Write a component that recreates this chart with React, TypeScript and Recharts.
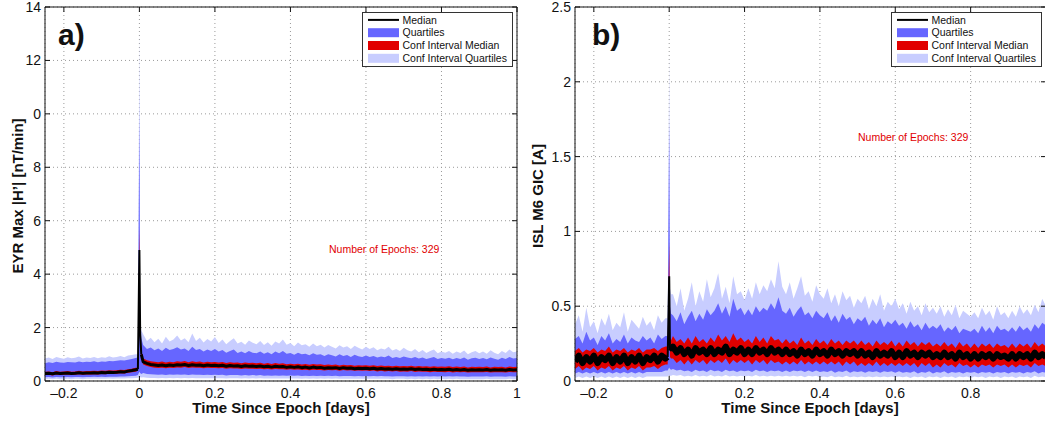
import React from "react";
import {
  ComposedChart,
  Area,
  Line,
  XAxis,
  YAxis,
  CartesianGrid,
  ReferenceArea,
  Legend,
} from "recharts";

// sample times (days since epoch), shared by both panels
const epochDays = [
  -0.25, -0.24, -0.23, -0.22, -0.21, -0.2, -0.19, -0.18, -0.17, -0.16,
  -0.15, -0.14, -0.13, -0.12, -0.11, -0.1, -0.09, -0.08, -0.07, -0.06,
  -0.05, -0.04, -0.03, -0.02, -0.01,
  -0.004, 0, 0.002, 0.005,
  0.01, 0.02, 0.03, 0.04, 0.05, 0.06, 0.07, 0.08, 0.09, 0.1,
  0.11, 0.12, 0.13, 0.14, 0.15, 0.16, 0.17, 0.18, 0.19, 0.2,
  0.21, 0.22, 0.23, 0.24, 0.25, 0.26, 0.27, 0.28, 0.29, 0.3,
  0.31, 0.32, 0.33, 0.34, 0.35, 0.36, 0.37, 0.38, 0.39, 0.4,
  0.41, 0.42, 0.43, 0.44, 0.45, 0.46, 0.47, 0.48, 0.49, 0.5,
  0.51, 0.52, 0.53, 0.54, 0.55, 0.56, 0.57, 0.58, 0.59, 0.6,
  0.61, 0.62, 0.63, 0.64, 0.65, 0.66, 0.67, 0.68, 0.69, 0.7,
  0.71, 0.72, 0.73, 0.74, 0.75, 0.76, 0.77, 0.78, 0.79, 0.8,
  0.81, 0.82, 0.83, 0.84, 0.85, 0.86, 0.87, 0.88, 0.89, 0.9,
  0.91, 0.92, 0.93, 0.94, 0.95, 0.96, 0.97, 0.98, 0.99, 1.0,
];
// the samples right at the epoch onset, drawn with a thin median stroke
const onsetDays = [-0.004, 0, 0.002, 0.005];

// ---- panel a) EYR Max |H'| ----
const eyrCiqHi = [
  0.84, 0.88, 0.82, 0.9, 0.86, 0.83, 0.89, 0.85, 0.87, 0.92, 0.84, 0.88, 0.86, 0.9, 0.85, 0.89, 0.87, 0.93, 0.88, 0.9, 0.94, 0.89, 0.95, 0.97, 1.0,
  1.0, 13.2, 2.4, 1.9,
  1.75, 1.5, 1.62, 1.45, 1.58, 1.4, 1.66, 1.48, 1.55, 1.7,
  1.52, 1.6, 1.45, 1.78, 1.5, 1.62, 1.44, 1.57, 1.48, 1.65,
  1.42, 1.55, 1.38, 1.5, 1.6, 1.4, 1.47, 1.36, 1.52, 1.43,
  1.38, 1.5, 1.35, 1.45, 1.32, 1.48, 1.4, 1.55, 1.36, 1.42,
  1.3, 1.44, 1.34, 1.38, 1.28, 1.4, 1.3, 1.36, 1.25, 1.35,
  1.28, 1.22, 1.34, 1.25, 1.3, 1.2, 1.32, 1.24, 1.18, 1.28,
  1.2, 1.26, 1.15, 1.22, 1.18, 1.28, 1.14, 1.2, 1.12, 1.24,
  1.15, 1.1, 1.2, 1.08, 1.16, 1.05, 1.12, 1.18, 1.04, 1.1,
  1.06, 1.12, 1.02, 1.1, 1.05, 1.14, 1.0, 1.08, 1.12, 1.04,
  1.1, 1.02, 1.15, 1.06, 1.0, 1.12, 1.05, 1.18, 1.08, 1.1,
];
const eyrQHi = [
  0.66, 0.7, 0.67, 0.72, 0.69, 0.68, 0.71, 0.7, 0.69, 0.73, 0.7, 0.72, 0.71, 0.74, 0.7, 0.73, 0.72, 0.75, 0.74, 0.76, 0.78, 0.77, 0.8, 0.82, 0.86,
  0.88, 10.0, 2.0, 1.6,
  1.35, 1.2, 1.25, 1.15, 1.22, 1.12, 1.24, 1.16, 1.2, 1.26,
  1.18, 1.22, 1.12, 1.28, 1.16, 1.2, 1.1, 1.18, 1.12, 1.2,
  1.1, 1.16, 1.06, 1.12, 1.18, 1.05, 1.1, 1.04, 1.12, 1.06,
  1.04, 1.1, 1.02, 1.08, 1.0, 1.1, 1.04, 1.12, 1.02, 1.05,
  0.98, 1.06, 1.0, 1.02, 0.96, 1.04, 0.98, 1.0, 0.94, 1.0,
  0.96, 0.92, 1.0, 0.94, 0.97, 0.9, 0.98, 0.93, 0.9, 0.95,
  0.9, 0.94, 0.88, 0.92, 0.89, 0.95, 0.86, 0.9, 0.86, 0.92,
  0.88, 0.85, 0.9, 0.84, 0.88, 0.82, 0.86, 0.9, 0.82, 0.86,
  0.83, 0.87, 0.81, 0.86, 0.82, 0.88, 0.8, 0.85, 0.87, 0.82,
  0.86, 0.81, 0.88, 0.83, 0.8, 0.87, 0.82, 0.9, 0.84, 0.86,
];
const eyrCimHi = [
  0.35, 0.36, 0.33, 0.37, 0.35, 0.36, 0.37, 0.35, 0.36, 0.38, 0.36, 0.37, 0.37, 0.38, 0.37, 0.39, 0.38, 0.4, 0.39, 0.4, 0.42, 0.41, 0.44, 0.46, 0.5,
  0.5, 5.75, 1.95, 1.15,
  0.84, 0.78, 0.74, 0.72, 0.7, 0.73, 0.69, 0.72, 0.7, 0.74,
  0.72, 0.75, 0.7, 0.74, 0.71, 0.73, 0.69, 0.72, 0.7, 0.71,
  0.69, 0.71, 0.67, 0.7, 0.68, 0.69, 0.66, 0.69, 0.67, 0.68,
  0.66, 0.68, 0.65, 0.67, 0.64, 0.67, 0.65, 0.66, 0.63, 0.65,
  0.63, 0.65, 0.62, 0.64, 0.61, 0.64, 0.62, 0.63, 0.6, 0.62,
  0.6, 0.62, 0.58, 0.61, 0.59, 0.6, 0.57, 0.59, 0.58, 0.59,
  0.57, 0.59, 0.56, 0.58, 0.56, 0.57, 0.55, 0.57, 0.55, 0.56,
  0.55, 0.57, 0.54, 0.56, 0.54, 0.55, 0.53, 0.55, 0.53, 0.54,
  0.53, 0.55, 0.52, 0.54, 0.52, 0.54, 0.51, 0.53, 0.52, 0.53,
  0.52, 0.54, 0.51, 0.53, 0.52, 0.53, 0.51, 0.54, 0.52, 0.53,
];
const eyrMed = [
  0.28, 0.29, 0.27, 0.3, 0.28, 0.29, 0.3, 0.28, 0.29, 0.31, 0.29, 0.3, 0.3, 0.31, 0.3, 0.32, 0.31, 0.33, 0.32, 0.33, 0.35, 0.34, 0.37, 0.39, 0.42,
  0.44, 4.9, 1.8, 1.0,
  0.72, 0.66, 0.62, 0.6, 0.58, 0.6, 0.57, 0.6, 0.58, 0.61,
  0.6, 0.62, 0.58, 0.61, 0.59, 0.6, 0.57, 0.6, 0.58, 0.59,
  0.57, 0.59, 0.55, 0.58, 0.56, 0.57, 0.54, 0.57, 0.55, 0.56,
  0.54, 0.56, 0.53, 0.55, 0.52, 0.55, 0.53, 0.54, 0.51, 0.53,
  0.51, 0.53, 0.5, 0.52, 0.49, 0.52, 0.5, 0.51, 0.48, 0.5,
  0.49, 0.5, 0.47, 0.5, 0.48, 0.49, 0.46, 0.48, 0.47, 0.48,
  0.46, 0.48, 0.45, 0.47, 0.45, 0.46, 0.44, 0.46, 0.44, 0.45,
  0.44, 0.46, 0.43, 0.45, 0.43, 0.44, 0.42, 0.44, 0.42, 0.43,
  0.42, 0.44, 0.41, 0.43, 0.41, 0.43, 0.4, 0.42, 0.41, 0.42,
  0.41, 0.43, 0.4, 0.42, 0.41, 0.42, 0.4, 0.43, 0.41, 0.42,
];
const eyrCimLo = [
  0.22, 0.23, 0.21, 0.24, 0.22, 0.23, 0.24, 0.22, 0.23, 0.25, 0.23, 0.24, 0.24, 0.25, 0.24, 0.26, 0.25, 0.27, 0.26, 0.27, 0.29, 0.28, 0.31, 0.33, 0.35,
  0.38, 4.2, 1.6, 0.9,
  0.62, 0.56, 0.52, 0.5, 0.49, 0.5, 0.48, 0.5, 0.49, 0.51,
  0.5, 0.52, 0.49, 0.51, 0.5, 0.5, 0.48, 0.5, 0.49, 0.49,
  0.48, 0.49, 0.46, 0.48, 0.47, 0.47, 0.45, 0.47, 0.46, 0.46,
  0.45, 0.46, 0.44, 0.45, 0.43, 0.45, 0.44, 0.44, 0.42, 0.44,
  0.42, 0.43, 0.41, 0.42, 0.4, 0.42, 0.41, 0.41, 0.39, 0.41,
  0.4, 0.41, 0.38, 0.41, 0.39, 0.4, 0.38, 0.39, 0.38, 0.39,
  0.37, 0.39, 0.36, 0.38, 0.36, 0.37, 0.36, 0.37, 0.35, 0.36,
  0.35, 0.37, 0.34, 0.36, 0.35, 0.35, 0.33, 0.35, 0.34, 0.34,
  0.33, 0.35, 0.32, 0.34, 0.33, 0.34, 0.32, 0.33, 0.33, 0.33,
  0.33, 0.34, 0.32, 0.33, 0.33, 0.33, 0.32, 0.34, 0.33, 0.33,
];
const eyrQLo = [
  0.14, 0.15, 0.13, 0.15, 0.14, 0.14, 0.15, 0.14, 0.15, 0.15, 0.14, 0.15, 0.15, 0.16, 0.15, 0.16, 0.15, 0.16, 0.16, 0.16, 0.17, 0.17, 0.18, 0.19, 0.2,
  0.22, 0.35, 0.3, 0.26,
  0.3, 0.26, 0.25, 0.24, 0.23, 0.24, 0.22, 0.24, 0.23, 0.24,
  0.23, 0.24, 0.22, 0.24, 0.23, 0.23, 0.22, 0.23, 0.22, 0.23,
  0.22, 0.23, 0.21, 0.22, 0.22, 0.22, 0.21, 0.22, 0.21, 0.22,
  0.21, 0.22, 0.2, 0.21, 0.2, 0.21, 0.2, 0.21, 0.2, 0.21,
  0.2, 0.21, 0.19, 0.2, 0.19, 0.2, 0.19, 0.2, 0.19, 0.2,
  0.19, 0.2, 0.18, 0.19, 0.19, 0.19, 0.18, 0.19, 0.18, 0.19,
  0.18, 0.19, 0.18, 0.19, 0.18, 0.18, 0.17, 0.18, 0.18, 0.18,
  0.17, 0.18, 0.17, 0.18, 0.17, 0.18, 0.17, 0.18, 0.17, 0.18,
  0.17, 0.18, 0.17, 0.18, 0.17, 0.17, 0.16, 0.17, 0.17, 0.17,
  0.17, 0.18, 0.16, 0.17, 0.17, 0.17, 0.16, 0.18, 0.17, 0.17,
];
const eyrCiqLo = [
  0.07, 0.08, 0.07, 0.08, 0.07, 0.07, 0.08, 0.07, 0.08, 0.08, 0.07, 0.08, 0.08, 0.08, 0.08, 0.08, 0.08, 0.09, 0.08, 0.09, 0.09, 0.09, 0.1, 0.1, 0.11,
  0.12, 0.15, 0.14, 0.13,
  0.14, 0.12, 0.11, 0.11, 0.1, 0.11, 0.1, 0.11, 0.1, 0.11,
  0.1, 0.11, 0.1, 0.11, 0.1, 0.1, 0.1, 0.1, 0.1, 0.1,
  0.1, 0.1, 0.09, 0.1, 0.1, 0.1, 0.09, 0.1, 0.09, 0.1,
  0.09, 0.1, 0.09, 0.09, 0.09, 0.09, 0.09, 0.09, 0.09, 0.09,
  0.09, 0.09, 0.08, 0.09, 0.08, 0.09, 0.08, 0.09, 0.08, 0.09,
  0.08, 0.09, 0.08, 0.08, 0.08, 0.08, 0.08, 0.08, 0.08, 0.08,
  0.08, 0.08, 0.08, 0.08, 0.08, 0.08, 0.07, 0.08, 0.08, 0.08,
  0.07, 0.08, 0.07, 0.08, 0.07, 0.08, 0.07, 0.08, 0.07, 0.08,
  0.07, 0.08, 0.07, 0.08, 0.07, 0.07, 0.07, 0.07, 0.07, 0.07,
  0.07, 0.08, 0.07, 0.07, 0.07, 0.07, 0.07, 0.08, 0.07, 0.07,
];

// ---- panel b) ISL M6 GIC ----
const islCiqHi = [
  0.38, 0.44, 0.33, 0.49, 0.36, 0.4, 0.32, 0.42, 0.37, 0.45, 0.34, 0.39, 0.36, 0.46, 0.33, 0.41, 0.38, 0.35, 0.43, 0.37, 0.4, 0.34, 0.44, 0.39, 0.42,
  0.42, 2.2, 0.62, 0.58,
  0.58, 0.5, 0.62, 0.47, 0.55, 0.66, 0.5, 0.6, 0.53, 0.68,
  0.56, 0.62, 0.72, 0.55, 0.63, 0.52, 0.7, 0.58, 0.6, 0.54,
  0.62, 0.55, 0.66, 0.58, 0.64, 0.6, 0.68, 0.62, 0.8, 0.63,
  0.58, 0.66, 0.55, 0.62, 0.7, 0.57, 0.6, 0.53, 0.64, 0.58,
  0.55, 0.62, 0.52, 0.58, 0.5, 0.6, 0.54, 0.57, 0.49, 0.55,
  0.52, 0.57, 0.48, 0.55, 0.5, 0.58, 0.47, 0.53, 0.5, 0.55,
  0.48, 0.52, 0.45, 0.53, 0.47, 0.5, 0.44, 0.52, 0.46, 0.49,
  0.45, 0.5, 0.43, 0.48, 0.44, 0.51, 0.42, 0.47, 0.45, 0.43,
  0.46, 0.42, 0.49, 0.44, 0.47, 0.41, 0.5, 0.44, 0.46, 0.42,
  0.47, 0.43, 0.5, 0.45, 0.48, 0.44, 0.51, 0.46, 0.55, 0.5,
];
const islQHi = [
  0.28, 0.3, 0.25, 0.33, 0.27, 0.29, 0.24, 0.3, 0.27, 0.32, 0.25, 0.28, 0.26, 0.31, 0.25, 0.29, 0.27, 0.26, 0.3, 0.27, 0.29, 0.25, 0.31, 0.28, 0.3,
  0.3, 1.74, 0.5, 0.45,
  0.44, 0.4, 0.46, 0.38, 0.43, 0.47, 0.4, 0.45, 0.41, 0.48,
  0.44, 0.47, 0.52, 0.45, 0.5, 0.43, 0.55, 0.47, 0.49, 0.44,
  0.48, 0.44, 0.5, 0.46, 0.49, 0.47, 0.52, 0.48, 0.56, 0.47,
  0.45, 0.49, 0.43, 0.47, 0.5, 0.44, 0.46, 0.42, 0.47, 0.44,
  0.42, 0.46, 0.4, 0.44, 0.39, 0.45, 0.41, 0.43, 0.38, 0.42,
  0.4, 0.43, 0.37, 0.41, 0.38, 0.42, 0.36, 0.4, 0.38, 0.41,
  0.37, 0.39, 0.35, 0.4, 0.36, 0.38, 0.34, 0.39, 0.35, 0.37,
  0.35, 0.38, 0.33, 0.36, 0.34, 0.37, 0.32, 0.35, 0.34, 0.33,
  0.35, 0.32, 0.37, 0.33, 0.36, 0.32, 0.37, 0.34, 0.35, 0.33,
  0.36, 0.33, 0.37, 0.34, 0.36, 0.33, 0.38, 0.35, 0.39, 0.37,
];
const islCimHi = [
  0.2, 0.22, 0.19, 0.21, 0.2, 0.22, 0.19, 0.21, 0.2, 0.23, 0.19, 0.21, 0.2, 0.22, 0.19, 0.21, 0.2, 0.22, 0.19, 0.21, 0.21, 0.22, 0.2, 0.22, 0.23,
  0.23, 0.93, 0.29, 0.27,
  0.3, 0.26, 0.28, 0.25, 0.29, 0.25, 0.3, 0.26, 0.28, 0.25,
  0.29, 0.26, 0.31, 0.27, 0.3, 0.26, 0.32, 0.27, 0.29, 0.26,
  0.28, 0.25, 0.3, 0.26, 0.29, 0.25, 0.3, 0.27, 0.28, 0.25,
  0.28, 0.25, 0.27, 0.24, 0.29, 0.25, 0.27, 0.24, 0.28, 0.25,
  0.27, 0.24, 0.28, 0.25, 0.27, 0.24, 0.27, 0.25, 0.27, 0.24,
  0.27, 0.24, 0.26, 0.23, 0.27, 0.24, 0.26, 0.24, 0.27, 0.23,
  0.26, 0.23, 0.27, 0.24, 0.26, 0.23, 0.26, 0.24, 0.26, 0.23,
  0.25, 0.23, 0.26, 0.23, 0.25, 0.22, 0.26, 0.23, 0.25, 0.22,
  0.25, 0.22, 0.25, 0.23, 0.25, 0.22, 0.25, 0.23, 0.24, 0.22,
  0.25, 0.22, 0.25, 0.23, 0.25, 0.22, 0.26, 0.23, 0.25, 0.23,
];
const islMed = [
  0.13, 0.17, 0.12, 0.16, 0.13, 0.17, 0.12, 0.16, 0.14, 0.17, 0.12, 0.16, 0.13, 0.17, 0.12, 0.16, 0.13, 0.17, 0.12, 0.16, 0.14, 0.17, 0.13, 0.17, 0.15,
  0.16, 0.7, 0.22, 0.2,
  0.23, 0.19, 0.22, 0.18, 0.21, 0.17, 0.22, 0.19, 0.21, 0.18,
  0.22, 0.18, 0.21, 0.19, 0.23, 0.18, 0.21, 0.19, 0.22, 0.18,
  0.21, 0.18, 0.22, 0.19, 0.21, 0.18, 0.22, 0.19, 0.21, 0.18,
  0.21, 0.18, 0.2, 0.17, 0.21, 0.18, 0.2, 0.17, 0.21, 0.18,
  0.2, 0.17, 0.21, 0.18, 0.2, 0.17, 0.2, 0.18, 0.2, 0.17,
  0.2, 0.17, 0.19, 0.16, 0.2, 0.17, 0.19, 0.17, 0.2, 0.16,
  0.19, 0.16, 0.2, 0.17, 0.19, 0.16, 0.19, 0.17, 0.19, 0.16,
  0.18, 0.16, 0.19, 0.16, 0.18, 0.15, 0.19, 0.16, 0.18, 0.15,
  0.18, 0.15, 0.18, 0.16, 0.18, 0.15, 0.18, 0.16, 0.17, 0.15,
  0.18, 0.15, 0.18, 0.16, 0.18, 0.15, 0.19, 0.16, 0.18, 0.16,
];
const islCimLo = [
  0.08, 0.1, 0.07, 0.09, 0.08, 0.1, 0.07, 0.09, 0.08, 0.1, 0.07, 0.09, 0.08, 0.1, 0.07, 0.09, 0.08, 0.1, 0.07, 0.09, 0.09, 0.1, 0.08, 0.1, 0.11,
  0.11, 0.6, 0.16, 0.15,
  0.15, 0.12, 0.14, 0.11, 0.14, 0.11, 0.14, 0.12, 0.14, 0.11,
  0.14, 0.12, 0.14, 0.12, 0.15, 0.11, 0.14, 0.12, 0.14, 0.12,
  0.14, 0.11, 0.14, 0.12, 0.14, 0.11, 0.14, 0.12, 0.13, 0.11,
  0.13, 0.11, 0.13, 0.11, 0.14, 0.11, 0.13, 0.11, 0.13, 0.11,
  0.13, 0.11, 0.13, 0.11, 0.13, 0.1, 0.13, 0.11, 0.13, 0.1,
  0.12, 0.1, 0.12, 0.1, 0.13, 0.1, 0.12, 0.1, 0.12, 0.1,
  0.12, 0.1, 0.12, 0.1, 0.12, 0.09, 0.12, 0.1, 0.12, 0.09,
  0.11, 0.09, 0.12, 0.1, 0.11, 0.09, 0.12, 0.1, 0.11, 0.09,
  0.11, 0.09, 0.11, 0.1, 0.11, 0.09, 0.11, 0.1, 0.11, 0.09,
  0.11, 0.09, 0.11, 0.1, 0.11, 0.09, 0.12, 0.1, 0.11, 0.1,
];
const islQLo = [
  0.05, 0.06, 0.05, 0.06, 0.05, 0.06, 0.05, 0.06, 0.05, 0.06, 0.05, 0.06, 0.05, 0.06, 0.05, 0.06, 0.05, 0.06, 0.05, 0.06, 0.06, 0.06, 0.06, 0.06, 0.07,
  0.07, 0.09, 0.08, 0.075,
  0.08, 0.07, 0.075, 0.065, 0.07, 0.06, 0.075, 0.065, 0.07, 0.06,
  0.075, 0.065, 0.07, 0.06, 0.075, 0.065, 0.07, 0.06, 0.07, 0.065,
  0.07, 0.06, 0.075, 0.065, 0.07, 0.06, 0.07, 0.065, 0.07, 0.06,
  0.07, 0.06, 0.07, 0.065, 0.07, 0.06, 0.07, 0.06, 0.07, 0.06,
  0.065, 0.06, 0.07, 0.055, 0.065, 0.06, 0.07, 0.055, 0.065, 0.06,
  0.065, 0.055, 0.065, 0.06, 0.065, 0.055, 0.065, 0.06, 0.065, 0.055,
  0.065, 0.055, 0.06, 0.055, 0.065, 0.05, 0.06, 0.055, 0.065, 0.05,
  0.06, 0.055, 0.065, 0.05, 0.06, 0.055, 0.06, 0.05, 0.06, 0.055,
  0.06, 0.05, 0.06, 0.055, 0.06, 0.05, 0.06, 0.055, 0.06, 0.05,
  0.06, 0.055, 0.06, 0.05, 0.06, 0.055, 0.065, 0.05, 0.06, 0.055,
];
const islCiqLo = [
  0.02, 0.03, 0.02, 0.03, 0.02, 0.03, 0.02, 0.03, 0.02, 0.03, 0.02, 0.03, 0.02, 0.03, 0.02, 0.03, 0.02, 0.03, 0.02, 0.03, 0.03, 0.03, 0.03, 0.03, 0.03,
  0.03, 0.04, 0.035, 0.035,
  0.04, 0.035, 0.04, 0.03, 0.035, 0.03, 0.04, 0.03, 0.035, 0.03,
  0.04, 0.03, 0.035, 0.03, 0.04, 0.03, 0.035, 0.03, 0.035, 0.03,
  0.035, 0.03, 0.04, 0.03, 0.035, 0.03, 0.035, 0.03, 0.035, 0.03,
  0.035, 0.03, 0.035, 0.03, 0.035, 0.025, 0.035, 0.03, 0.035, 0.025,
  0.03, 0.025, 0.035, 0.025, 0.03, 0.025, 0.035, 0.025, 0.03, 0.025,
  0.03, 0.025, 0.03, 0.025, 0.03, 0.025, 0.03, 0.025, 0.03, 0.025,
  0.03, 0.025, 0.03, 0.02, 0.03, 0.025, 0.03, 0.02, 0.03, 0.025,
  0.03, 0.02, 0.03, 0.025, 0.03, 0.02, 0.03, 0.025, 0.03, 0.02,
  0.03, 0.025, 0.03, 0.02, 0.03, 0.025, 0.03, 0.02, 0.03, 0.025,
  0.03, 0.02, 0.03, 0.025, 0.03, 0.02, 0.035, 0.025, 0.03, 0.025,
];

// axes
const xTicksA = [-0.2, 0, 0.2, 0.4, 0.6, 0.8, 1];
const xTickLabelsA = ["\u20130.2", "0", "0.2", "0.4", "0.6", "0.8", "1"];
const xTicksB = [-0.2, 0, 0.2, 0.4, 0.6, 0.8];
const xTickLabelsB = ["\u20130.2", "0", "0.2", "0.4", "0.6", "0.8"];
const yTicksA = [0, 2, 4, 6, 8, 10, 12, 14];
const yTickLabelsA = ["0", "2", "4", "6", "8", "0", "12", "14"];
const yTicksB = [0, 0.5, 1, 1.5, 2, 2.5];
const yTickLabelsB = ["0", "0.5", "1", "1.5", "2", "2.5"];
const legendNames = ["Median", "Quartiles", "Conf Interval Median", "Conf Interval Quartiles"];

const LIGHT = "#c8cdff";
const BLUE = "#6666ff";
const RED = "#e10000";
const INK = "#111";
const FONT = '"Liberation Sans", Arial, Helvetica, sans-serif';

const H = 425;
const PLOT_TOP = 7;
const X_AXIS_H = 44;
const PLOT_BOTTOM = H - X_AXIS_H;

type Bands = {
  ciqLo: number[];
  qLo: number[];
  cimLo: number[];
  med: number[];
  cimHi: number[];
  qHi: number[];
  ciqHi: number[];
};

function buildRows(s: Bands) {
  const first = onsetDays[0];
  const last = onsetDays[onsetDays.length - 1];
  return epochDays.map((t, i) => {
    const inOnset = onsetDays.includes(t);
    const inner = inOnset && t !== first && t !== last;
    return {
      t,
      ciq: [s.ciqLo[i], s.ciqHi[i]],
      q: [s.qLo[i], s.qHi[i]],
      cim: [s.cimLo[i], s.cimHi[i]],
      med: inner ? null : s.med[i],
      medOnset: inOnset ? s.med[i] : null,
    };
  });
}

const rowsA = buildRows({
  ciqLo: eyrCiqLo, qLo: eyrQLo, cimLo: eyrCimLo, med: eyrMed,
  cimHi: eyrCimHi, qHi: eyrQHi, ciqHi: eyrCiqHi,
});
const rowsB = buildRows({
  ciqLo: islCiqLo, qLo: islQLo, cimLo: islCimLo, med: islMed,
  cimHi: islCimHi, qHi: islQHi, ciqHi: islCiqHi,
});

function LegendBox() {
  const swatch = [null, BLUE, RED, LIGHT];
  return (
    <svg width={151} height={55} style={{ display: "block" }}>
      <rect x={0.5} y={0.5} width={150} height={54} fill="#fff" stroke="#333" />
      {legendNames.map((name, i) => {
        const cy = 7.9 + i * 12.8;
        return (
          <g key={name}>
            {swatch[i] ? (
              <rect x={6} y={cy - 4.5} width={31} height={9} fill={swatch[i] as string} />
            ) : (
              <line x1={6} x2={37} y1={cy} y2={cy} stroke="#000" strokeWidth={2} />
            )}
            <text x={40.5} y={cy + 3.7} fontSize={10.5} fontFamily={FONT} fill={INK}>
              {name}
            </text>
          </g>
        );
      })}
    </svg>
  );
}

type PanelProps = {
  rows: ReturnType<typeof buildRows>;
  width: number;
  yAxisWidth: number;
  marginRight: number;
  yMax: number;
  yTicks: number[];
  yTickLabels: string[];
  xTicks: number[];
  xTickLabels: string[];
  legendLeft: number;
  medWidth: number;
};

function Panel(p: PanelProps) {
  const plotLeft = p.yAxisWidth;
  const plotRight = p.width - p.marginRight;

  const xTick = (props: any) => {
    const { x, payload } = props;
    const label = p.xTickLabels[p.xTicks.indexOf(payload.value)];
    return (
      <g>
        <line x1={x} x2={x} y1={PLOT_BOTTOM} y2={PLOT_BOTTOM - 5} stroke={INK} />
        <line x1={x} x2={x} y1={PLOT_TOP} y2={PLOT_TOP + 5} stroke={INK} />
        <text x={x} y={PLOT_BOTTOM + 17} textAnchor="middle" fontSize={14} fontFamily={FONT} fill={INK}>
          {label}
        </text>
      </g>
    );
  };

  const yTick = (props: any) => {
    const { y, payload } = props;
    const label = p.yTickLabels[p.yTicks.indexOf(payload.value)];
    return (
      <g>
        <line x1={plotLeft} x2={plotLeft + 5} y1={y} y2={y} stroke={INK} />
        <line x1={plotRight - 5} x2={plotRight} y1={y} y2={y} stroke={INK} />
        <text x={plotLeft - 4} y={y + 5} textAnchor="end" fontSize={14} fontFamily={FONT} fill={INK}>
          {label}
        </text>
      </g>
    );
  };

  return (
    <ComposedChart
      width={p.width}
      height={H}
      data={p.rows}
      margin={{ top: PLOT_TOP, right: p.marginRight, bottom: 0, left: 0 }}
    >
      <CartesianGrid stroke="#9a9a9a" strokeDasharray="1 3" />
      <XAxis
        type="number"
        dataKey="t"
        domain={[-0.25, 1]}
        ticks={p.xTicks}
        interval={0}
        allowDataOverflow
        height={X_AXIS_H}
        axisLine={false}
        tickLine={false}
        tickSize={0}
        tickMargin={0}
        tick={xTick}
      />
      <YAxis
        type="number"
        domain={[0, p.yMax]}
        ticks={p.yTicks}
        interval={0}
        allowDataOverflow
        width={p.yAxisWidth}
        axisLine={false}
        tickLine={false}
        tickSize={0}
        tickMargin={0}
        tick={yTick}
      />
      <Area
        type="linear"
        dataKey="ciq"
        name="Conf Interval Quartiles"
        stroke="none"
        fill={LIGHT}
        fillOpacity={1}
        dot={false}
        activeDot={false}
        isAnimationActive={false}
      />
      <Area
        type="linear"
        dataKey="q"
        name="Quartiles"
        stroke="none"
        fill={BLUE}
        fillOpacity={1}
        dot={false}
        activeDot={false}
        isAnimationActive={false}
      />
      <Area
        type="linear"
        dataKey="cim"
        name="Conf Interval Median"
        stroke="none"
        fill={RED}
        fillOpacity={1}
        dot={false}
        activeDot={false}
        isAnimationActive={false}
      />
      <Line
        type="linear"
        dataKey="med"
        name="Median"
        stroke="#000"
        strokeWidth={p.medWidth}
        strokeLinejoin="round"
        dot={false}
        activeDot={false}
        isAnimationActive={false}
      />
      <Line
        type="linear"
        dataKey="medOnset"
        name="Median onset"
        stroke="#000"
        strokeWidth={2}
        dot={false}
        activeDot={false}
        legendType="none"
        isAnimationActive={false}
      />
      <ReferenceArea
        x1={-0.25}
        x2={1}
        y1={0}
        y2={p.yMax}
        fill="none"
        stroke={INK}
        strokeWidth={1}
        ifOverflow="visible"
      />
      <Legend
        layout="vertical"
        align="center"
        verticalAlign="middle"
        wrapperStyle={{ left: p.legendLeft, top: 12, width: 151, height: 55 }}
        content={() => <LegendBox />}
      />
    </ComposedChart>
  );
}

export default function App() {
  const titleStyle = { fontFamily: FONT, fontWeight: 700, fill: INK } as const;
  return (
    <div
      style={{
        position: "fixed",
        left: 0,
        top: 0,
        width: 1045,
        height: H,
        overflow: "hidden",
        background: "#fff",
      }}
    >
      <div style={{ position: "absolute", left: 0, top: 0 }}>
        <Panel
          rows={rowsA}
          width={525}
          yAxisWidth={45}
          marginRight={8}
          yMax={14}
          yTicks={yTicksA}
          yTickLabels={yTickLabelsA}
          xTicks={xTicksA}
          xTickLabels={xTickLabelsA}
          legendLeft={362}
          medWidth={3}
        />
      </div>
      <div style={{ position: "absolute", left: 520, top: 0 }}>
        <Panel
          rows={rowsB}
          width={535}
          yAxisWidth={55}
          marginRight={9}
          yMax={2.5}
          yTicks={yTicksB}
          yTickLabels={yTickLabelsB}
          xTicks={xTicksB}
          xTickLabels={xTickLabelsB}
          legendLeft={371}
          medWidth={6}
        />
      </div>
      <svg
        width={1045}
        height={H}
        style={{ position: "absolute", left: 0, top: 0, pointerEvents: "none" }}
      >
        <text x={58} y={45} fontSize={30} {...titleStyle}>a)</text>
        <text x={592} y={45} fontSize={30} {...titleStyle}>b)</text>
        <text x={281} y={413} fontSize={15} textAnchor="middle" {...titleStyle}>
          Time Since Epoch [days]
        </text>
        <text x={810} y={413} fontSize={15} textAnchor="middle" {...titleStyle}>
          Time Since Epoch [days]
        </text>
        <text x={23} y={196} fontSize={15} textAnchor="middle" transform="rotate(-90 23 196)" {...titleStyle}>
          EYR Max |H’| [nT/min]
        </text>
        <text x={543} y={196} fontSize={15} textAnchor="middle" transform="rotate(-90 543 196)" {...titleStyle}>
          ISL M6 GIC [A]
        </text>
        <text x={329} y={253} fontSize={10.5} fontFamily={FONT} fill={RED}>
          Number of Epochs: 329
        </text>
        <text x={858} y={141} fontSize={10.5} fontFamily={FONT} fill={RED}>
          Number of Epochs: 329
        </text>
      </svg>
    </div>
  );
}
